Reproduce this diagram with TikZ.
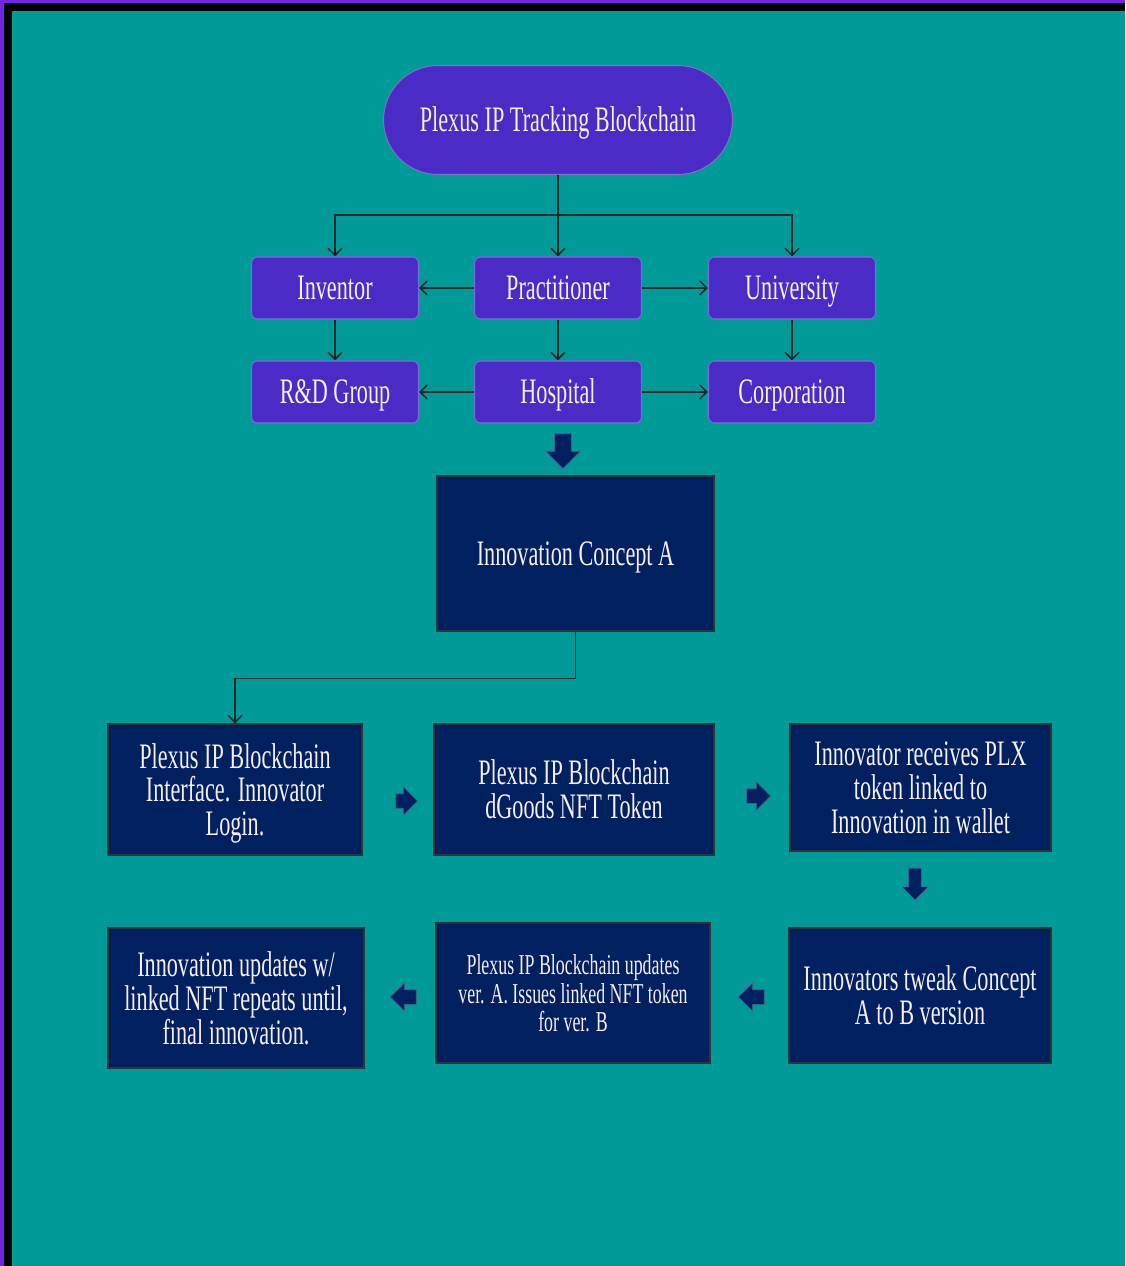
\documentclass[tikz,border=0pt]{standalone}
\usepackage{fontspec}
\setmainfont{Liberation Serif}[FakeStretch=0.62]
\usepackage{xcolor}
\definecolor{nentim}{HTML}{009A99}
\definecolor{tim}{HTML}{4A2BC6}
\definecolor{vientim}{HTML}{7A6CD8}
\definecolor{xanhdam}{HTML}{002060}
\definecolor{khung}{HTML}{7424E2}
\definecolor{duong}{HTML}{0C2A2A}
\definecolor{chu}{HTML}{F6EEF4}
\def\upx{0.02cm}
\usepackage{tikz}
\usetikzlibrary{calc,shapes,shapes.misc,shapes.arrows,positioning,arrows.meta}

\begin{document}
\begin{tikzpicture}[x=0.02cm,y=-0.02cm]
	\tikzset{
		hopxanh/.style={draw=black!80,line width=0.6pt,fill=xanhdam,text=chu,align=center,inner sep=0pt,text depth=0pt,font=\fontsize{20.4}{19.3}\selectfont},
		hoptim/.style={draw=vientim,line width=0.6pt,fill=tim,text=chu,rounded corners=6*\upx,minimum width=167*\upx,minimum height=62*\upx,inner sep=0pt,text height=13.5pt,text depth=0pt,font=\fontsize{20.4}{19.3}\selectfont},
		noi/.style={draw=duong,line width=0.9pt,-{Straight Barb[length=4pt,width=8pt]}},
		mui/.style={single arrow,fill=xanhdam,draw=xanhdam!70!white,line width=0.4pt,inner xsep=0pt,inner ysep=7*\upx,single arrow head extend=7*\upx},
		muixuong/.style={mui,shape border rotate=270,inner ysep=0pt,inner xsep=#1*\upx}
	}
	%%%nen va khung
	\useasboundingbox (0,0) rectangle (1125,1266);
	\fill[khung] (0,0) rectangle (1125,1266);
	\fill[black] (4,3) rectangle (1125,1266);
	\fill[nentim] (12,11) rectangle (1125,1266);
	%%%tieu de
	\node[rounded rectangle,draw=vientim!70!gray,line width=0.6pt,fill=tim,text=chu,minimum width=349*\upx,minimum height=109*\upx,inner sep=0pt,text height=13.5pt,text depth=0pt,font=\fontsize{20.4}{19.3}\selectfont] (tde) at (558,120) {Plexus IP Tracking Blockchain};
	%%%hang tim thu nhat
	\node[hoptim] (inv) at (335,288) {Inventor};
	\node[hoptim] (prac) at (558,288) {Practitioner};
	\node[hoptim] (univ) at (792,288) {University};
	%%%hang tim thu hai
	\node[hoptim] (rd) at (335,392) {R\&D Group};
	\node[hoptim] (hosp) at (558,392) {Hospital};
	\node[hoptim] (corp) at (792,392) {Corporation};
	%%%cac duong noi
	\coordinate (tach) at (558,215);
	\draw[noi] (tde) -- (prac);
	\draw[noi] (tach) -| (inv);
	\draw[noi] (tach) -| (univ);
	\draw[noi] (prac) -- (inv);
	\draw[noi] (prac) -- (univ);
	\draw[noi] (inv) -- (rd);
	\draw[noi] (prac) -- (hosp);
	\draw[noi] (univ) -- (corp);
	\draw[noi] (hosp) -- (rd);
	\draw[noi] (hosp) -- (corp);
	%%%y tuong
	\node[muixuong=8,minimum height=35*\upx,single arrow head extend=9*\upx] (xuong) at (563,447) {};
	\node[hopxanh,minimum width=277*\upx,minimum height=155*\upx] (conc) at (575.5,553.5) {Innovation Concept A};
	%%%hang xanh thu nhat
	\node[hopxanh,minimum width=254*\upx,minimum height=131*\upx] (bA) at (235,789.5) {Plexus IP Blockchain\\Interface. Innovator\\Login.};
	\node[hopxanh,minimum width=280*\upx,minimum height=131*\upx] (bB) at (574,789.5) {Plexus IP Blockchain\\dGoods NFT Token};
	\node[hopxanh,minimum width=261*\upx,minimum height=127*\upx] (bC) at (920.5,787.5) {Innovator receives PLX\\token linked to\\Innovation in wallet};
	\draw[noi] (conc.south) -- ++(0,47) -| (bA.north);
	\node[mui,minimum height=22*\upx] (phaiA) at (403,801) {};
	\node[mui,minimum height=24*\upx] (phaiB) at (755,796) {};
	\node[muixuong=6,minimum height=32*\upx] (xuongC) at (915,881) {};
	%%%hang xanh thu hai
	\node[hopxanh,minimum width=256*\upx,minimum height=140*\upx] (bD) at (236,998) {Innovation updates w/\\linked NFT repeats until,\\final innovation.};
	\node[hopxanh,minimum width=274*\upx,minimum height=140*\upx,font=\fontsize{16.4}{16.4}\selectfont] (bE) at (573,993) {Plexus IP Blockchain updates\\ver. A. Issues linked NFT token\\for ver. B};
	\node[hopxanh,minimum width=262*\upx,minimum height=135*\upx] (bF) at (920,995.5) {Innovators tweak Concept\\A to B version};
	\node[mui,shape border rotate=180,minimum height=26*\upx] (traiF) at (755,997) {};
	\node[mui,shape border rotate=180,minimum height=26*\upx] (traiE) at (407,997) {};
\end{tikzpicture}
\end{document}
